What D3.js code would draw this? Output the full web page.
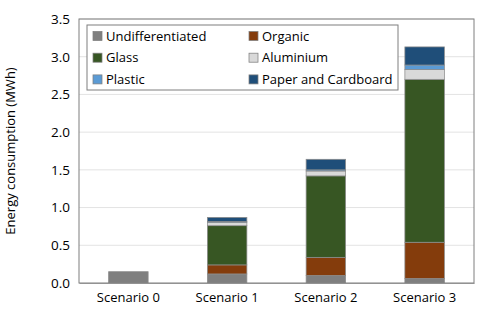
<!DOCTYPE html>
<html>
<head>
<meta charset="utf-8">
<script src="https://cdn.jsdelivr.net/npm/d3@7"></script>
<style>
  body { margin: 0; background: #fff; }
  text { font-family: "Open Sans", sans-serif; fill: #000; }
</style>
</head>
<body>
<div id="chart"></div>
<script>
// data (MWh)
var scenarios = ["Scenario 0", "Scenario 1", "Scenario 2", "Scenario 3"];
var wasteTypes = ["Undifferentiated", "Organic", "Glass", "Aluminium", "Plastic", "Paper and Cardboard"];
var undifferentiated = [0.15, 0.12, 0.10, 0.06];
var organic          = [0,    0.12, 0.24, 0.48];
var glass            = [0,    0.52, 1.08, 2.16];
var aluminium        = [0,    0.045, 0.065, 0.13];
var plastic          = [0,    0.01, 0.015, 0.06];
var paper            = [0,    0.055, 0.14, 0.24];
var yTicks = [0, 0.5, 1.0, 1.5, 2.0, 2.5, 3.0, 3.5];

var colors = ["#7f7f7f", "#843c0c", "#375623", "#d9d9d9", "#5b9bd5", "#1f4e79"];

var margin = {top: 19, right: 6, bottom: 30, left: 79},
    width = 480 - margin.left - margin.right,
    height = 313 - margin.top - margin.bottom;

var series = [undifferentiated, organic, glass, aluminium, plastic, paper];
var rows = scenarios.map(function(s, i) {
    var r = {scenario: s};
    wasteTypes.forEach(function(w, k) { r[w] = series[k][i]; });
    return r;
});
var stacked = d3.stack().keys(wasteTypes)(rows);

var xScale = d3.scaleBand()
    .domain(scenarios)
    .range([0, width])
    .paddingInner(0.6)
    .paddingOuter(0.3);

var yScale = d3.scaleLinear()
    .domain([0, 3.5])
    .range([height, 0]);

var svg = d3.select("#chart").append("svg")
    .attr("width", 480)
    .attr("height", 313)
    .append("g")
    .attr("transform", "translate(" + margin.left + "," + margin.top + ")");

// gridlines
svg.append("g")
    .selectAll("line")
    .data(yTicks.slice(1))
    .enter().append("line")
    .attr("x1", 0).attr("x2", width)
    .attr("y1", function(d) { return yScale(d); })
    .attr("y2", function(d) { return yScale(d); })
    .attr("stroke", "#e3e3e3")
    .attr("stroke-width", 1);

// y axis labels
var yAxis = svg.append("g")
    .call(d3.axisLeft(yScale).tickValues(yTicks).tickFormat(d3.format(".1f")).tickSize(0).tickPadding(9));
yAxis.select(".domain").remove();
yAxis.selectAll("text").style("font-size", "13.5px").style("font-family", "Open Sans, sans-serif");

// bars
svg.selectAll(".layer")
    .data(stacked)
    .enter().append("g")
    .attr("class", "layer")
    .attr("fill", function(d, i) { return colors[i]; })
    .selectAll("rect")
    .data(function(d) { return d; })
    .enter().append("rect")
    .filter(function(d) { return d[1] - d[0] > 0; })
    .attr("x", function(d) { return xScale(d.data.scenario); })
    .attr("y", function(d) { return yScale(d[1]); })
    .attr("width", xScale.bandwidth())
    .attr("height", function(d) { return yScale(d[0]) - yScale(d[1]); })
    .attr("stroke", "#8c8c8c")
    .attr("stroke-width", 0.75);

// x axis
var xAxis = svg.append("g")
    .attr("transform", "translate(0," + height + ")")
    .call(d3.axisBottom(xScale).tickSize(0).tickPadding(10));
xAxis.select(".domain").attr("stroke", "#a6a6a6");
xAxis.selectAll("text").style("font-size", "13px").style("font-family", "Open Sans, sans-serif");

// plot border
svg.append("rect")
    .attr("x", 0).attr("y", 0)
    .attr("width", width).attr("height", height)
    .attr("fill", "none")
    .attr("stroke", "#7f7f7f")
    .attr("stroke-width", 1);

// y title
svg.append("text")
    .attr("transform", "translate(" + (15 - margin.left) + "," + (height / 2) + ") rotate(-90)")
    .attr("text-anchor", "middle")
    .style("font-size", "13px")
    .text("Energy consumption (MWh)");

// legend
var legend = svg.append("g").attr("transform", "translate(8,6)");
legend.append("rect")
    .attr("width", 311).attr("height", 65)
    .attr("fill", "#fff")
    .attr("stroke", "#7f7f7f")
    .attr("stroke-width", 1);

var item = legend.selectAll(".item")
    .data(wasteTypes)
    .enter().append("g")
    .attr("class", "item")
    .attr("transform", function(d, i) {
        return "translate(" + (i % 2 === 0 ? 6 : 162) + "," + (11 + Math.floor(i / 2) * 21.7) + ")";
    });
item.append("rect")
    .attr("y", -4.5)
    .attr("width", 9).attr("height", 9)
    .attr("fill", function(d, i) { return colors[i]; })
    .attr("stroke", "#7f7f7f")
    .attr("stroke-width", 0.75);
item.append("text")
    .attr("x", 13)
    .attr("dy", "0.35em")
    .style("font-size", "13px")
    .text(function(d) { return d; });
</script>
</body>
</html>
